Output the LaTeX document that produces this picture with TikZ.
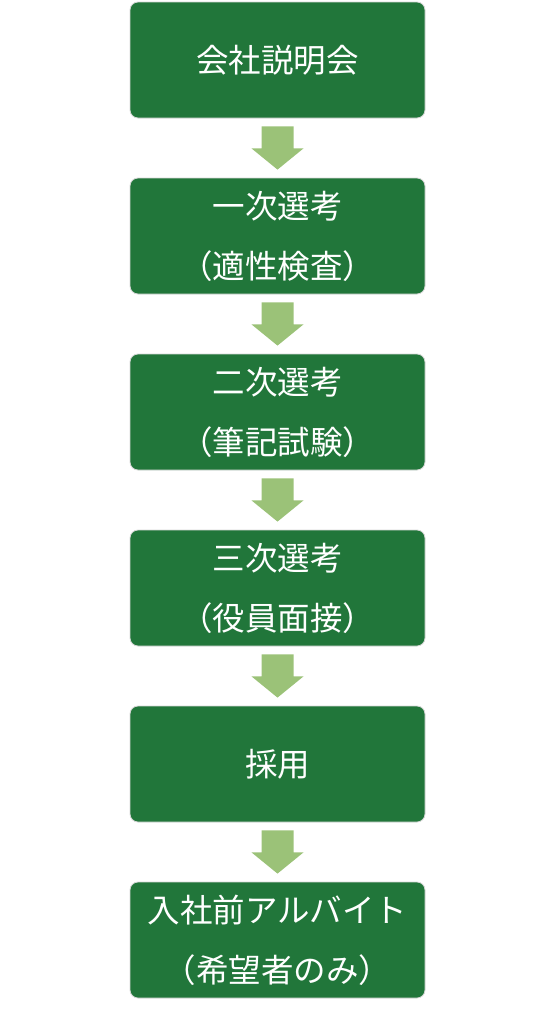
\documentclass[tikz,border=0pt]{standalone}
\usepackage{fontspec}
\setmainfont{Noto Sans CJK JP}
\usetikzlibrary{calc}
\definecolor{boxgreen}{RGB}{33,118,58}
\definecolor{arrowgreen}{RGB}{155,194,120}
\definecolor{boxline}{RGB}{215,215,215}
\tikzset{
	stagebox/.style = {draw = boxline, line width = 0.8pt, fill = boxgreen, rounded corners = 8pt,
		minimum width = 295pt, minimum height = 116pt, text = white, align = center,
		font = \fontsize{32.5}{60}\selectfont, inner sep = 0pt},
}
\begin{document}
\begin{tikzpicture}[x = 1pt, y = -1pt]
			\useasboundingbox (0,0) rectangle (556,1020);
			\node[stagebox] (s1) at (277.5,60) {会社説明会};
			\node[stagebox] (s2) at (277.5,236) {一次選考\\（適性検査）};
			\node[stagebox] (s3) at (277.5,412) {二次選考\\（筆記試験）};
			\node[stagebox] (s4) at (277.5,588) {三次選考\\（役員面接）};
			\node[stagebox] (s5) at (277.5,764) {採用};
			\node[stagebox] (s6) at (277.5,940) {入社前アルバイト\\（希望者のみ）};
			\foreach \a/\b in {s1/s2,s2/s3,s3/s4,s4/s5,s5/s6}{
				\fill[arrowgreen] ($(\a.south)+(-16,8)$) -- ($(\a.south)+(16,8)$) -- ($(\a.south)+(16,30)$) %
				-- ($(\a.south)+(26,30)$) -- ($(\b.north)+(0,-8)$) -- ($(\a.south)+(-26,30)$) %
				-- ($(\a.south)+(-16,30)$) -- cycle;
			}
\end{tikzpicture}
\end{document}
